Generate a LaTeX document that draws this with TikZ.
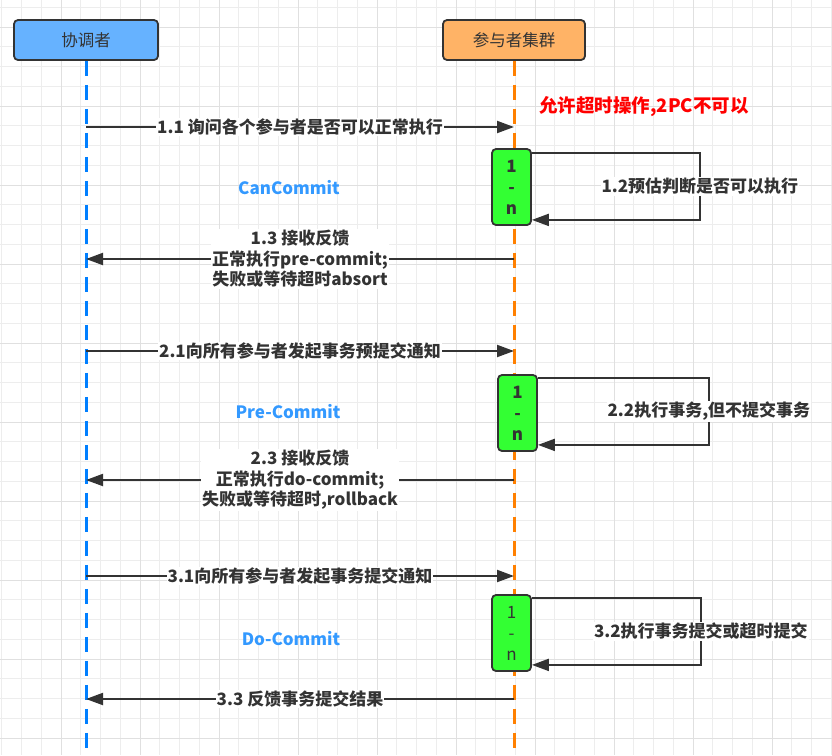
\documentclass[tikz,border=0pt]{standalone}
\usepackage{fontspec}
\setmainfont{Noto Sans CJK SC}
\usetikzlibrary{arrows.meta, positioning, calc}
\definecolor{hdrblue}{HTML}{66B2FF}
\definecolor{hdrorange}{HTML}{FFB366}
\definecolor{actgreen}{HTML}{33FF33}
\definecolor{lineblue}{HTML}{007FFF}
\definecolor{lineorange}{HTML}{FF8000}
\definecolor{phaseblue}{HTML}{3399FF}
\definecolor{edgegray}{HTML}{333333}

\begin{document}
\begin{tikzpicture}[
    x=1pt, y=-1pt,
    >={Triangle[length=17pt,width=12pt]},
    hdr/.style={draw=edgegray, line width=1.8pt, rounded corners=4pt,
                minimum width=144pt, minimum height=40pt, text=edgegray,
                font=\fontsize{16.5}{19}\selectfont},
    act/.style={draw=edgegray, fill=actgreen, line width=1.8pt,
                rounded corners=4pt, minimum width=39pt, minimum height=76pt,
                align=center, text=edgegray,
                font=\fontsize{17}{21}\selectfont\bfseries},
    life/.style={line width=3pt, dash pattern=on 15pt off 9pt},
    msg/.style={draw=edgegray, line width=2pt, ->},
    lbl/.style={fill=white, inner sep=1pt, align=center, text=edgegray,
                font=\fontsize{17}{20.5}\selectfont\bfseries},
    phase/.style={text=phaseblue, font=\fontsize{17}{19}\selectfont\bfseries},
    gridminor/.style={draw=black!7, line width=0.8pt},
    gridmajor/.style={draw=black!12, line width=1pt}
  ]
  \useasboundingbox (0,0) rectangle (832,755);
  \fill[white] (0,0) rectangle (832,755);

  % background grid
  \foreach \i in {0,...,42}
    \draw[gridminor] ({1.75+19.75*\i},0) -- ++(0,755);
  \foreach \i in {0,...,38}
    \draw[gridminor] (0,{7.25+19.75*\i}) -- ++(832,0);
  \foreach \i in {0,...,9} {
    \draw[gridmajor] ({61+79*\i},0) -- ++(0,755);
    \draw[gridmajor] (0,{27+79*\i}) -- ++(832,0);
  }

  % participants and lifelines
  \node[hdr, fill=hdrblue] (coord) at (86,40) {协调者};
  \node[hdr, fill=hdrorange, minimum width=142pt] (part) at (514,40) {参与者集群};
  \draw[life, lineblue] (coord.south) -- (coord |- 0,755);
  \draw[life, lineorange] (part.south) -- (part |- 0,755);

  \node[text=red, font=\fontsize{18.5}{21}\selectfont\bfseries] (note) at (644,107)
    {允许超时操作,2PC不可以};

  % phase 1
  \coordinate (c11) at (coord |- 0,127);
  \coordinate (p11) at (part |- 0,127);
  \draw[msg] (c11) -- node[lbl] {1.1 询问各个参与者是否可以正常执行} (p11);
  \node[act] (act1) at (511.5,187) {1\\-\\n};
  \draw[msg] ([yshift=-5pt]act1.north east) -- ++(168,0)
    |- node[lbl, pos=0.25] {1.2预估判断是否可以执行} ([yshift=6pt]act1.south east);
  \node[phase] (can) at (289,188) {CanCommit};
  \coordinate (p13) at (part |- 0,259);
  \coordinate (c13) at (coord |- 0,259);
  \draw[msg] (p13) -- node[lbl] {1.3 接收反馈\\正常执行pre-commit;\\失败或等待超时absort} (c13);

  % phase 2
  \coordinate (c21) at (coord |- 0,351);
  \coordinate (p21) at (part |- 0,351);
  \draw[msg] (c21) -- node[lbl] {2.1向所有参与者发起事务预提交通知} (p21);
  \node[act] (act2) at (517.5,413) {1\\-\\n};
  \draw[msg] ([yshift=-4pt]act2.north east) -- ++(171,0)
    |- node[lbl, pos=0.25] {2.2执行事务,但不提交事务} ([yshift=7pt]act2.south east);
  \node[phase] (pre) at (288,412) {Pre-Commit};
  \coordinate (p23) at (part |- 0,480);
  \coordinate (c23) at (coord |- 0,480);
  \draw[msg] (p23) -- node[lbl] {2.3 接收反馈\\正常执行do-commit;\\失败或等待超时,rollback} (c23);

  % phase 3
  \coordinate (c31) at (coord |- 0,576);
  \coordinate (p31) at (part |- 0,576);
  \draw[msg] (c31) -- node[lbl] {3.1向所有参与者发起事务提交通知} (p31);
  \node[act, font=\fontsize{17}{21}\selectfont] (act3) at (511.5,633) {1\\-\\n};
  \draw[msg] ([yshift=-4pt]act3.north east) -- ++(169,0)
    |- node[lbl, pos=0.25] {3.2执行事务提交或超时提交} ([yshift=7pt]act3.south east);
  \node[phase] (do) at (291,639) {Do-Commit};
  \coordinate (p33) at (part |- 0,699);
  \coordinate (c33) at (coord |- 0,699);
  \draw[msg] (p33) -- node[lbl] {3.3 反馈事务提交结果} (c33);
\end{tikzpicture}
\end{document}
